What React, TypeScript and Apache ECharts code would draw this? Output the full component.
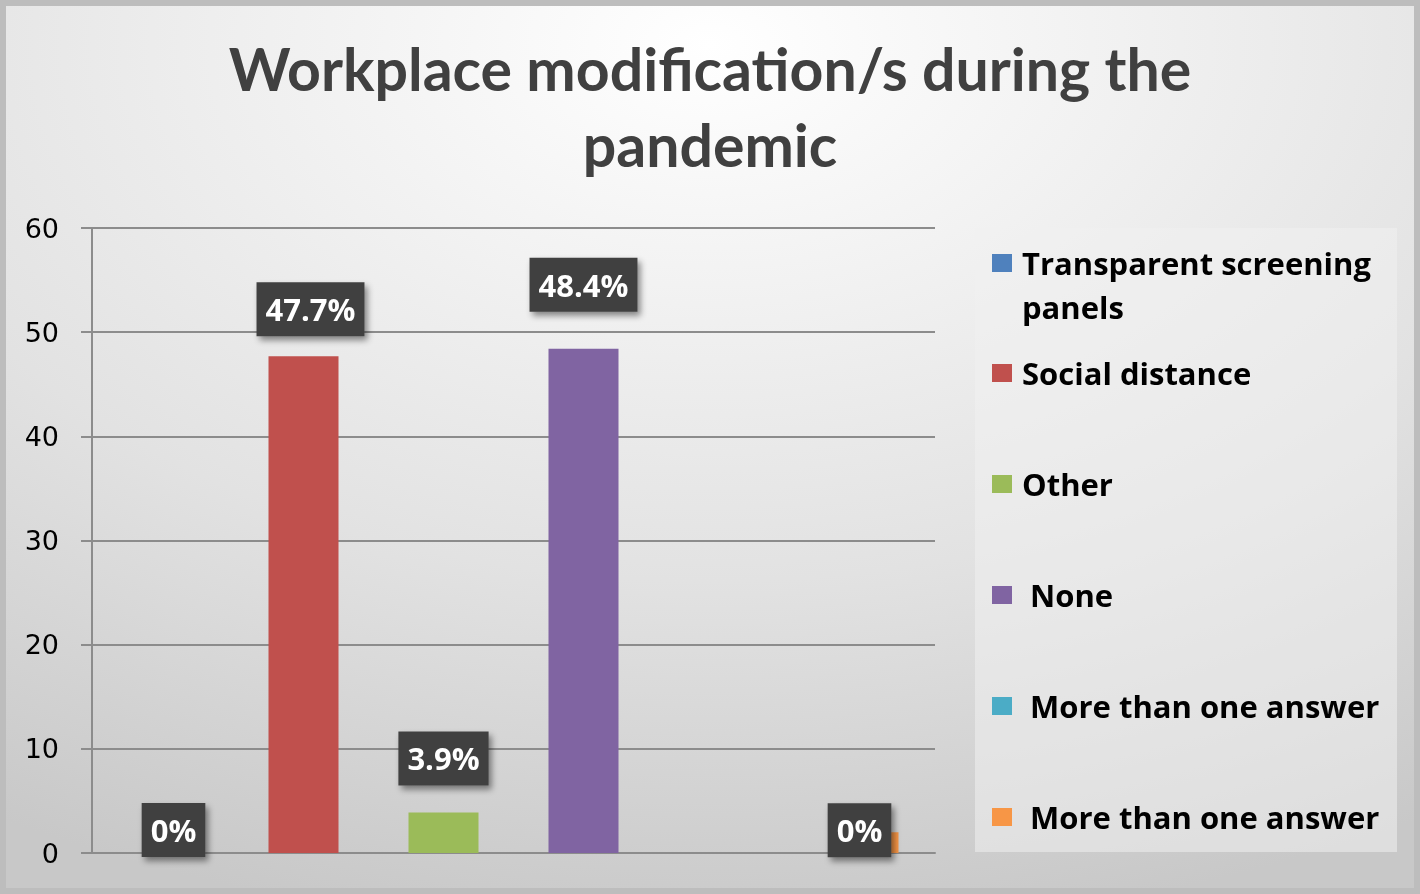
import React, { useEffect, useRef } from "react";
import * as echarts from "echarts";

const categories = [""];
const seriesNames = [
  "Transparent screening panels",
  "Social distance",
  "Other",
  " None",
  " More than one answer",
  " More than one answer ",
];
const legendLabels = [
  " \nTransparent screening\npanels",
  "Social distance",
  "Other",
  " None",
  " More than one answer",
  " More than one answer",
];
const values = [0, 47.7, 3.9, 48.4, 0, 2];
const dataLabels = ["0%", "47.7%", "3.9%", "48.4%", "", "0%"];
const yMin = 0;
const yMax = 60;
const yInterval = 10;

// styles
const colors = ["#4f81bd", "#c0504d", "#9bbb59", "#8064a2", "#4bacc6", "#f79646"];
const labelOffsets: [number, number][] = [
  [10, 4],
  [7, -20],
  [0, -27],
  [0, -37],
  [0, 0],
  [-4, 25],
];
const legendCenters = [263, 373, 484, 595, 706, 817];

const LABEL_FONT = "Open Sans";
const LEGEND_FONT = "Open Sans";

export default function App() {
  const ref = useRef<HTMLDivElement>(null);
  useEffect(() => {
    if (!ref.current) return;
    const chart = echarts.init(ref.current, undefined, { renderer: "svg" });

    const series = seriesNames.map((name, i) => ({
      type: "bar",
      name,
      barWidth: 70,
      barGap: "100%",
      itemStyle: { color: colors[i] },
      data: [
        {
          value: values[i],
          label: {
            show: dataLabels[i] !== "",
            position: "top",
            distance: 0,
            offset: labelOffsets[i],
            formatter: dataLabels[i],
            color: "#ffffff",
            fontFamily: LABEL_FONT,
            fontWeight: "bold",
            fontSize: 31,
            lineHeight: 30,
            backgroundColor: "#404040",
            padding: [12, 9, 12, 9],
            shadowColor: "rgba(0,0,0,0.45)",
            shadowBlur: 6,
            shadowOffsetX: 3,
            shadowOffsetY: 4,
          },
        },
      ],
    }));

    const legends = seriesNames.map((name, i) => {
      const lines = legendLabels[i].split("\n").length;
      const lh = lines > 1 ? 44 : 36;
      const top = legendCenters[i] - (lines * lh) / 2;
      return {
        show: true,
        orient: "vertical",
        left: 992,
        top,
        padding: 0,
        icon: "rect",
        itemWidth: 20,
        itemHeight: 18,
        selectedMode: false,
        data: [{ name }],
        formatter: () => legendLabels[i],
        textStyle: {
          color: "#000000",
          fontFamily: LEGEND_FONT,
          fontWeight: "bold",
          fontSize: 31,
          lineHeight: lh,
          padding: [0, 0, 0, 5],
        },
      };
    });

    chart.setOption({
      animation: false,
      backgroundColor: {
        type: "radial",
        x: 0.5,
        y: 0.05,
        r: 1.0,
        colorStops: [
          { offset: 0, color: "#ffffff" },
          { offset: 0.6, color: "#e2e2e2" },
          { offset: 1, color: "#c8c8c8" },
        ],
      },
      title: {
        text: "Workplace modification/s during the\npandemic",
        left: "center",
        top: 25,
        textStyle: {
          fontFamily: "Lato",
          fontWeight: "bold",
          fontSize: 59,
          lineHeight: 76,
          color: "#404040",
        },
      },
      graphic: [
        {
          type: "rect",
          shape: { x: 3, y: 3, width: 1414, height: 888 },
          style: { fill: "none", stroke: "#bdbdbd", lineWidth: 6 },
          silent: true,
          z: -1,
        },
        {
          type: "rect",
          shape: { x: 975, y: 228, width: 422, height: 624 },
          style: { fill: "rgba(240,240,240,0.55)" },
          silent: true,
          z: -1,
        },
      ],
      legend: legends,
      grid: { left: 92, right: 485, top: 228, bottom: 41, containLabel: false },
      xAxis: {
        type: "category",
        data: categories,
        axisLine: { show: true, lineStyle: { color: "#8c8c8c", width: 2 } },
        axisTick: { show: false },
        axisLabel: { show: false },
      },
      yAxis: {
        type: "value",
        min: yMin,
        max: yMax,
        interval: yInterval,
        axisLine: { show: true, lineStyle: { color: "#8c8c8c", width: 2 } },
        axisTick: { show: true, length: 11, lineStyle: { color: "#8c8c8c", width: 2 } },
        axisLabel: {
          margin: 33,
          color: "#000000",
          fontFamily: "DejaVu Sans",
          fontSize: 27,
        },
        splitLine: { show: true, lineStyle: { color: "#8c8c8c", width: 2 } },
      },
      series,
    });
    return () => chart.dispose();
  }, []);
  return (
    <div
      ref={ref}
      style={{ position: "fixed", left: 0, top: 0, width: 1420, height: 894 }}
    />
  );
}
